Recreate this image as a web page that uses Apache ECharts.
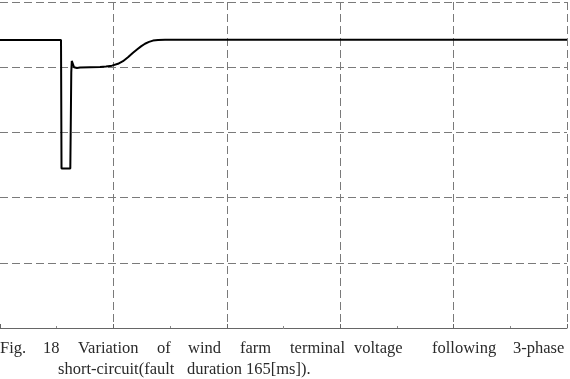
<!DOCTYPE html>
<html>
<head>
<meta charset="utf-8">
<script src="https://cdn.jsdelivr.net/npm/echarts@6/dist/echarts.min.js"></script>
<style>
html,body{margin:0;padding:0;background:#fff;}
#chart{width:570px;height:379px;}
</style>
</head>
<body>
<div id="chart"></div>
<script>
// time [s]
var timeSec = [0, 1.076, 1.085, 1.240, 1.249, 1.257, 1.266, 1.284, 1.305, 1.332, 1.358, 1.411, 1.587, 1.764, 1.870, 1.975, 2.081, 2.169, 2.257, 2.346, 2.416, 2.487, 2.557, 2.628, 2.698, 2.787, 2.910, 10];
// terminal voltage [pu]
var voltagePu = [1.104, 1.104, 0.612, 0.612, 0.80, 0.98, 1.024, 1.018, 1.000, 0.995, 0.997, 0.999, 1.000, 1.001, 1.003, 1.006, 1.013, 1.023, 1.038, 1.055, 1.068, 1.080, 1.090, 1.097, 1.102, 1.104, 1.105, 1.105];

var captionLine1 = ["Fig.", "18", "Variation", "of", "wind", "farm", "terminal", "voltage", "following", "3-phase"];
var captionLine1X = [0, 43, 78, 157, 188, 240, 290, 354, 432, 513];
var captionLine2 = ["short-circuit(fault", "duration", "165[ms])."];
var captionLine2X = [58, 187, 246];

var seriesData = timeSec.map(function (t, i) { return [t, voltagePu[i]]; });

var textFont = '"Liberation Serif", "DejaVu Serif", serif';
var graphics = [];
captionLine1.forEach(function (w, i) {
  graphics.push({ type: 'text', left: captionLine1X[i], top: 340,
    style: { text: w, font: '16.5px ' + textFont, fill: '#2a2a2a' } });
});
captionLine2.forEach(function (w, i) {
  graphics.push({ type: 'text', left: captionLine2X[i], top: 361,
    style: { text: w, font: '16.5px ' + textFont, fill: '#2a2a2a' } });
});

var chart = echarts.init(document.getElementById('chart'), null, { renderer: 'canvas' });
chart.setOption({
  animation: false,
  backgroundColor: '#fff',
  grid: { left: -1, right: 3, top: 2, bottom: 51, containLabel: false },
  xAxis: {
    type: 'value', min: 0, max: 10, interval: 2,
    axisLine: { show: true, lineStyle: { color: '#666', width: 1 } },
    axisTick: { show: true, inside: true, length: 4, lineStyle: { color: '#666' } },
    minorTick: { show: true, splitNumber: 2, length: 2, lineStyle: { color: '#888' } },
    axisLabel: { show: false },
    splitLine: { show: true, showMinLine: false, lineStyle: { color: '#7a7a7a', type: [8, 4], width: 1 } }
  },
  yAxis: {
    type: 'value', min: 0, max: 1.25, interval: 0.25,
    axisLine: { show: false },
    axisTick: { show: false },
    minorTick: { show: true, splitNumber: 2, length: 3, lineStyle: { color: '#888' } },
    axisLabel: { show: false },
    splitLine: { show: true, showMinLine: false, lineStyle: { color: '#7a7a7a', type: [8, 4], width: 1 } }
  },
  series: [{
    type: 'line', data: seriesData, showSymbol: false, smooth: false,
    lineStyle: { color: '#000', width: 2 }, z: 5
  }],
  graphic: graphics
});
</script>
</body>
</html>
